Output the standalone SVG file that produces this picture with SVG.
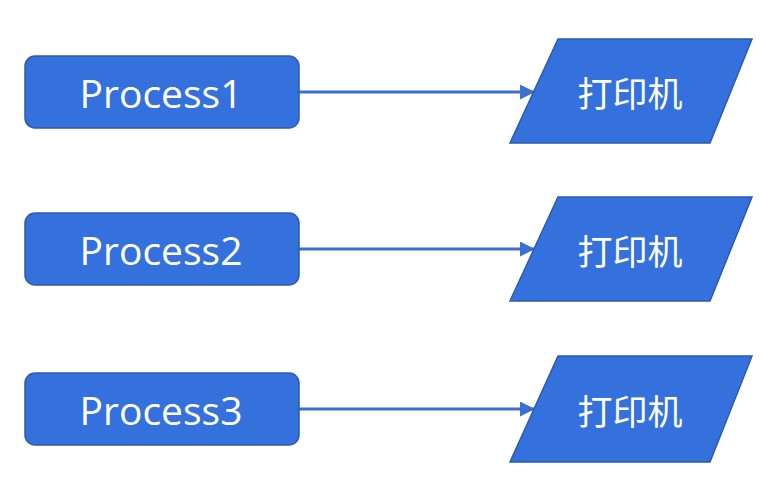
<svg xmlns="http://www.w3.org/2000/svg" width="764" height="485" viewBox="0 0 764 485">
<style>
.proc{fill:#3571DC;stroke:#2C5BAA;stroke-width:1.5}
.io{fill:#3571DC;stroke:#2C5BAA;stroke-width:1.5}
.t{fill:#fff;font-family:"Open Sans","Noto Sans",sans-serif;font-size:39px;text-anchor:middle;dominant-baseline:central}
.c{fill:#fff;font-family:"Noto Sans CJK SC",sans-serif;font-size:35px;text-anchor:middle;dominant-baseline:central}
.edge{stroke:#3A6FD4;stroke-width:3;fill:none;marker-end:url(#ah)}
</style>
<defs>
<marker id="ah" viewBox="0 0 10 10" refX="10" refY="5" markerWidth="5" markerHeight="5" orient="auto" markerUnits="strokeWidth">
<path d="M0,0 L10,5 L0,10 z" fill="#3A6FD4"/>
</marker>
</defs>
<rect width="764" height="485" fill="#fff"/>
<g id="connectors">
<line class="edge" x1="299" y1="92" x2="535" y2="92"/>
<line class="edge" x1="299" y1="249" x2="535" y2="249"/>
<line class="edge" x1="299" y1="409" x2="535" y2="409"/>
</g>
<g id="process1"><rect class="proc" x="25" y="56" width="274" height="72" rx="10"/><text class="t" x="161" y="92">Process1</text></g>
<g id="process2"><rect class="proc" x="25" y="213" width="274" height="72" rx="10"/><text class="t" x="161" y="249">Process2</text></g>
<g id="process3"><rect class="proc" x="25" y="373" width="274" height="72" rx="10"/><text class="t" x="161" y="409">Process3</text></g>
<g id="printer1"><polygon class="io" points="558,39 752,39 710,143 510,143"/><text class="c" x="630" y="91">打印机</text></g>
<g id="printer2"><polygon class="io" points="558,197 752,197 710,301 510,301"/><text class="c" x="630" y="249">打印机</text></g>
<g id="printer3"><polygon class="io" points="558,356 752,356 710,462 510,462"/><text class="c" x="630" y="409">打印机</text></g>
</svg>
